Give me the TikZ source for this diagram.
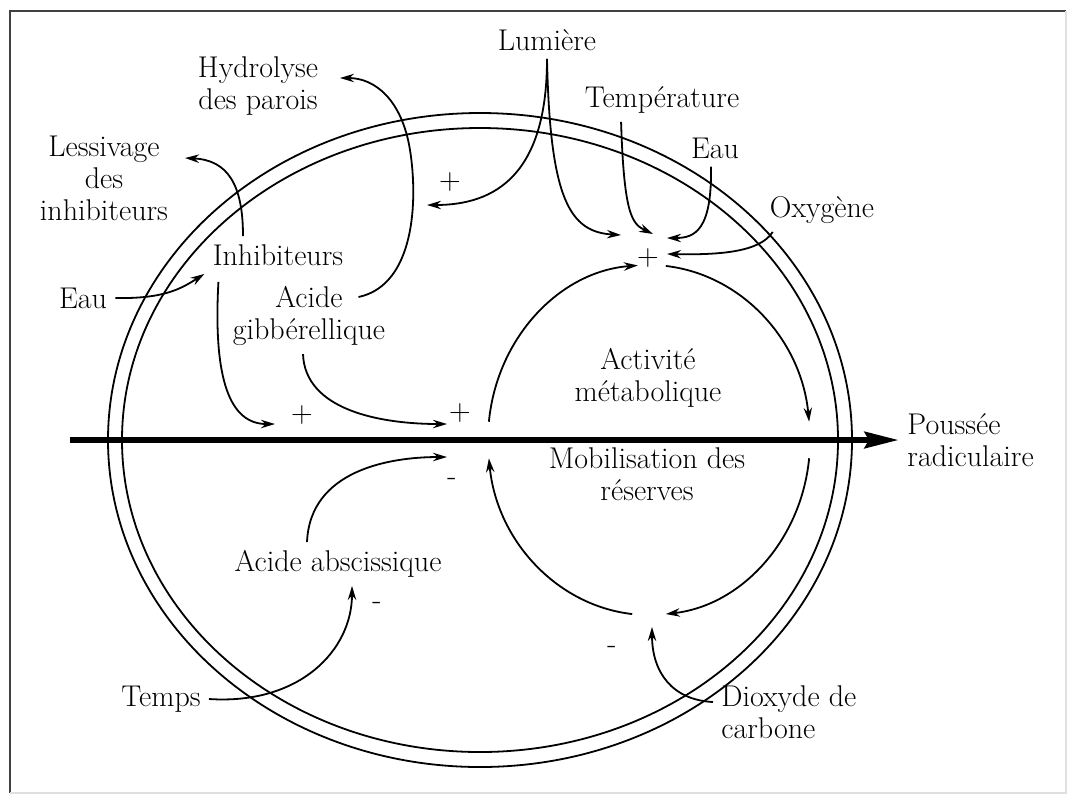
\documentclass[tikz,border=0pt]{standalone}
\usepackage{fontspec}
\usepackage{tikz}
\usetikzlibrary{arrows.meta}
\tikzset {>=Stealth}
\tikzset {
  lbl/.style={inner sep=4pt, align=center, font=\fontsize{15}{16}\selectfont},
  sgn/.style={inner sep=1pt, font=\fontsize{15}{16}\selectfont},
  fl/.style={line width=0.9pt, -{Stealth[length=7pt,width=4.2pt]}},
  axe/.style={line width=3.2pt, -{Stealth[length=17pt,width=8pt,inset=2pt]}},
  paroi/.style={line width=0.9pt}
}

\begin{document}
\begin{tikzpicture}[x=0.5pt,y=-0.5pt]
\useasboundingbox (0,0) rectangle (1068,794);
\draw[line width=1.4pt, black!75] (10,793) -- (10,11) -- (1066,11);
\draw[line width=0.6pt, black!12] (1066,11) -- (1066,793) -- (10,793);

% tegument
\coordinate (graine) at (480,440);
\draw[paroi] (graine) ellipse[x radius=372, y radius=327];
\draw[paroi] (graine) ellipse[x radius=358, y radius=312];

\node[lbl] (lum) at (547,40) {Lumière};
\node[lbl] (temp) at (662,100) {Température};
\node[lbl] (eauR) at (715,148) {Eau};
\node[lbl] (oxy) at (822,210) {Oxygène};
\node[lbl] (hydro) at (258,86) {Hydrolyse\\des parois};
\node[lbl] (lessiv) at (104,178) {Lessivage\\des\\inhibiteurs};
\node[lbl] (inhib) at (278,255) {Inhibiteurs};
\node[lbl] (eauL) at (83,298) {Eau};
\node[lbl] (giber) at (309,316) {Acide\\gibbérellique};
\node[lbl] (activ) at (648,378) {Activité\\métabolique};
\node[lbl] (mobil) at (647,474) {Mobilisation des\\réserves};
\node[lbl, anchor=west, align=left] (pousse) at (899,440) {Poussée\\radiculaire};
\node[lbl] (abscis) at (338,564) {Acide abscissique};
\node[lbl] (temps) at (161,699) {Temps};
\node[lbl, anchor=west, align=left] (cotwo) at (713,712) {Dioxyde de\\carbone};

\node[sgn] (pLum) at (450,182) {+};
\node[sgn] (pTop) at (648,258) {+};
\node[sgn] (pInh) at (302,415) {+};
\node[sgn] (pGib) at (460,413) {+};
\node[sgn] (mAbs) at (452,482) {-};
\node[sgn] (mTps) at (377,606) {-};
\node[sgn] (mCo) at (612,650) {-};

% pointes
\coordinate (tLumL) at (427,205);
\coordinate (tLumR) at (621,235);
\coordinate (tTemp) at (653,234);
\coordinate (tEau) at (667,238);
\coordinate (tOxy) at (667,254);
\coordinate (tHyd) at (340,78);
\coordinate (tLess) at (185,158);
\coordinate (tInh) at (275,424);
\coordinate (tGib) at (447,424);
\coordinate (tAbs) at (447,457);
\coordinate (tCo) at (652,627);
\coordinate (axeStart) at (70,440);

\draw[axe] (axeStart) -- (pousse.west);

\draw[fl] (lum.south) .. controls (547,175) and (495,205) .. (tLumL);
\draw[fl] (lum.south) .. controls (550,200) and (570,232) .. (tLumR);
\draw[fl] (temp.208) .. controls (624,215) and (632,224) .. (tTemp);
\draw[fl] ([xshift=-2pt]eauR.south) .. controls (712,230) and (695,238) .. (tEau);
\draw[fl] (oxy.204) .. controls (760,252) and (720,255) .. (tOxy);

\draw[fl] ([shift={(-35,-19)}]giber.east) .. controls (415,285) and (418,200) .. (410,150)
  .. controls (402,100) and (375,78) .. (tHyd);
\draw[fl] ([xshift=-17.5pt]inhib.north) .. controls (243,185) and (228,160) .. (tLess);
\draw[fl] (eauL.east) .. controls (165,299) and (182,288) .. (inhib.south west);
\draw[fl] ([shift={(14,8)}]inhib.south west) .. controls (213,380) and (230,424) .. (tInh);
\draw[fl] ([xshift=-3pt]giber.south) .. controls (305,410) and (380,424) .. (tGib);
\draw[fl] ([xshift=-15.5pt]abscis.north) .. controls (310,470) and (390,457) .. (tAbs);
\draw[fl] (temps.east) .. controls (300,705) and (352,650) .. ([xshift=7pt]abscis.south);
\draw[fl] ([yshift=5pt]cotwo.west) .. controls (672,700) and (652,672) .. (tCo);

% cycle
\coordinate (metab) at (649,440);
\draw[fl] (metab) ++(186:161 and 175) arc[start angle=186, end angle=266, x radius=161, y radius=175];
\draw[fl] (metab) ++(276:161 and 175) arc[start angle=276, end angle=354, x radius=161, y radius=175];
\draw[fl] (metab) ++(6:161 and 175) arc[start angle=6, end angle=84, x radius=161, y radius=175];
\draw[fl] (metab) ++(96:161 and 175) arc[start angle=96, end angle=174, x radius=161, y radius=175];
\end{tikzpicture}
\end{document}
